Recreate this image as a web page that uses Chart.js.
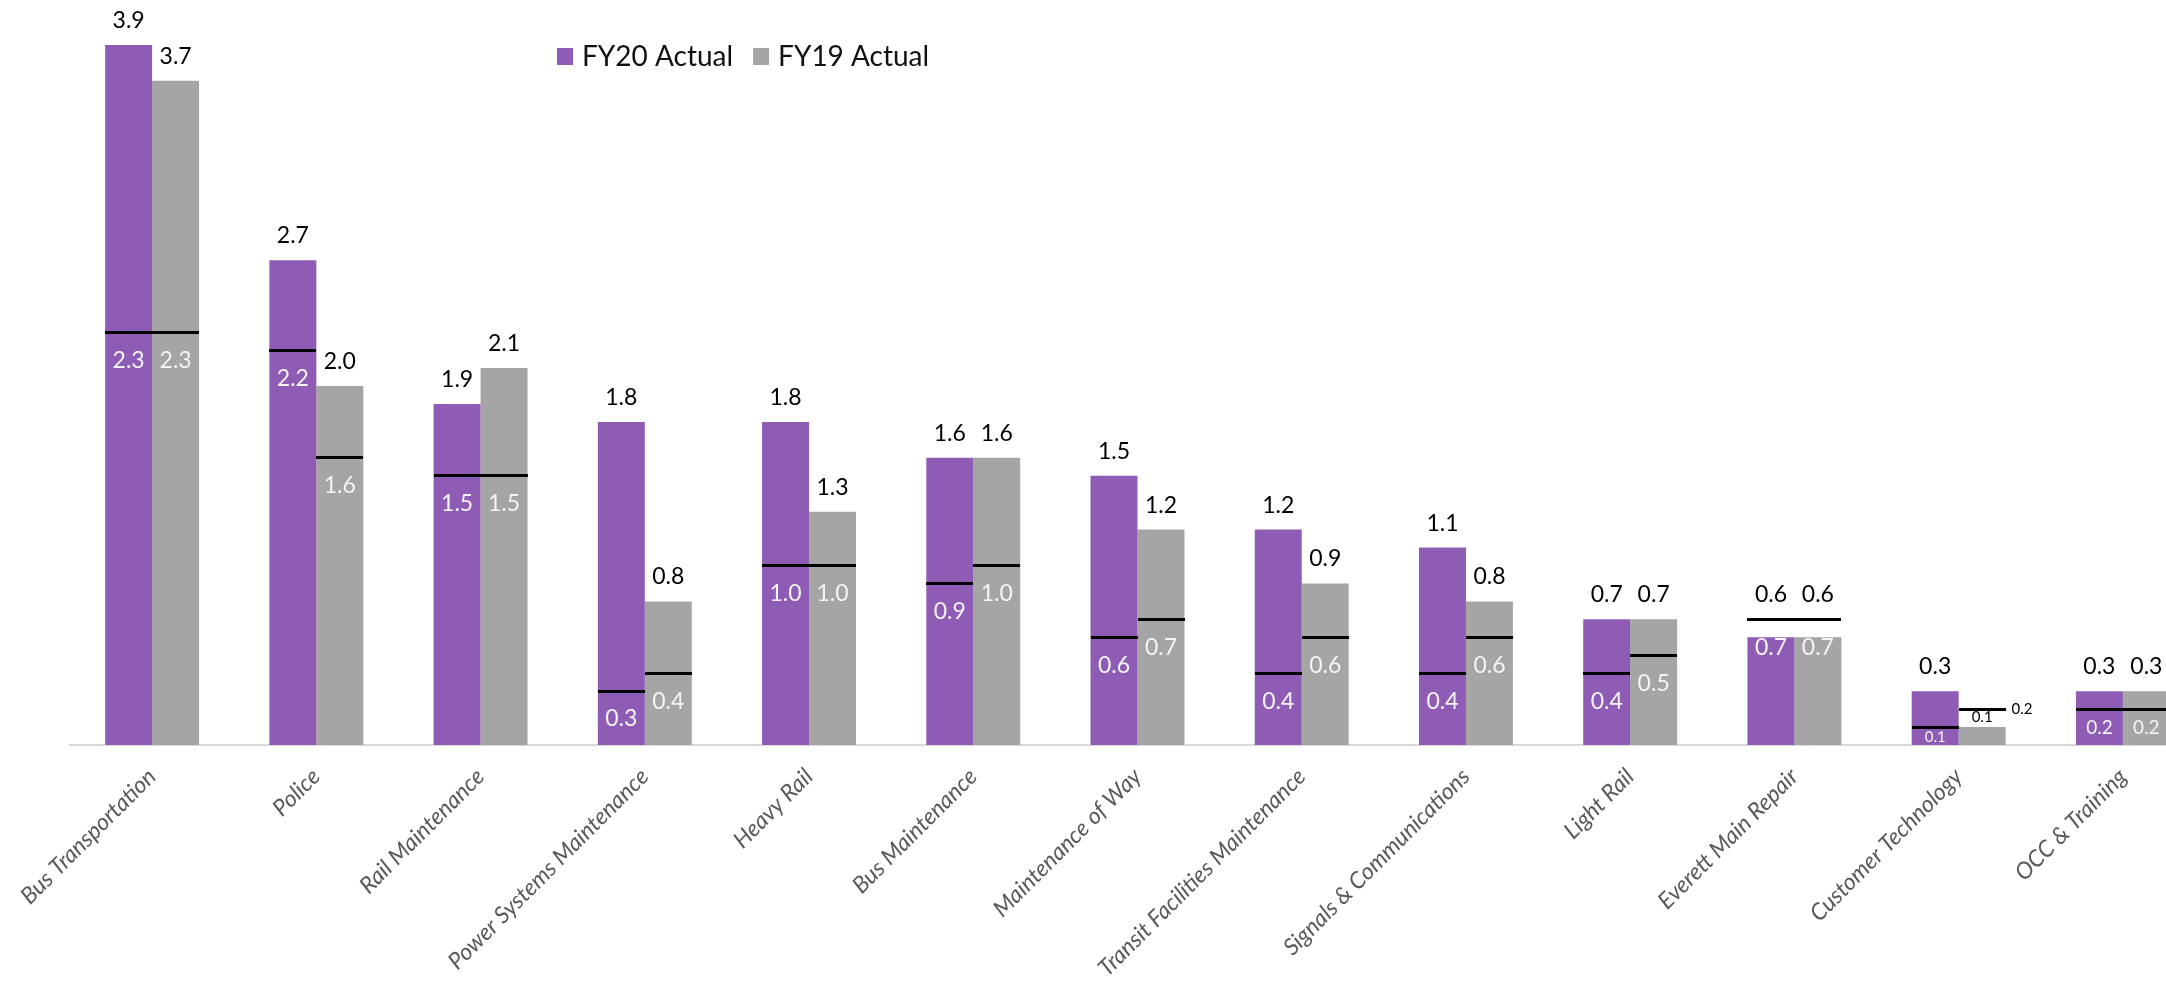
<!DOCTYPE html>
<html>
<head>
<meta charset="utf-8">
<script src="https://cdn.jsdelivr.net/npm/chart.js@4.4.1/dist/chart.umd.min.js"></script>
<style>
  html, body { margin: 0; padding: 0; background: #ffffff; overflow: hidden; }
  #wrap { position: relative; width: 2230px; height: 982px; }
</style>
</head>
<body>
<div id="wrap"><canvas id="chart"></canvas></div>
<script>
// Department values, FY20 vs FY19
const categories = [
  'Bus Transportation', 'Police', 'Rail Maintenance', 'Power Systems Maintenance',
  'Heavy Rail', 'Bus Maintenance', 'Maintenance of Way', 'Transit Facilities Maintenance',
  'Signals & Communications', 'Light Rail', 'Everett Main Repair', 'Customer Technology',
  'OCC & Training'
];
const fy20Actual = [3.9, 2.7, 1.9, 1.8, 1.8, 1.6, 1.5, 1.2, 1.1, 0.7, 0.6, 0.3, 0.3];
const fy19Actual = [3.7, 2.0, 2.1, 0.8, 1.3, 1.6, 1.2, 0.9, 0.8, 0.7, 0.6, 0.1, 0.3];
// Horizontal reference marks drawn across each bar
const fy20Mark = [2.3, 2.2, 1.5, 0.3, 1.0, 0.9, 0.6, 0.4, 0.4, 0.4, 0.7, 0.1, 0.2];
const fy19Mark = [2.3, 1.6, 1.5, 0.4, 1.0, 1.0, 0.7, 0.6, 0.6, 0.5, 0.7, 0.2, 0.2];

const PURPLE = '#8E5CB5';
const GRAY = '#A5A5A5';
const FONT = 'Lato, "Open Sans", sans-serif';

const fmt = v => v.toFixed(1);

// Draws the reference marks and every value label on top of the bars
const markAndLabels = {
  id: 'markAndLabels',
  afterDatasetsDraw(chart) {
    const { ctx, scales: { y } } = chart;
    const base = y.getPixelForValue(0);
    const marks = [fy20Mark, fy19Mark];

    ctx.save();
    // reference marks
    chart.data.datasets.forEach((ds, di) => {
      const meta = chart.getDatasetMeta(di);
      meta.data.forEach((bar, i) => {
        const { x, width } = bar.getProps(['x', 'width'], true);
        const my = y.getPixelForValue(marks[di][i]);
        ctx.fillStyle = '#000000';
        ctx.fillRect(Math.round(x - width / 2), Math.round(my - 1.5), Math.round(width), 3);
      });
    });

    // labels
    chart.data.datasets.forEach((ds, di) => {
      const meta = chart.getDatasetMeta(di);
      meta.data.forEach((bar, i) => {
        const { x, y: top, width } = bar.getProps(['x', 'y', 'width'], true);
        const value = ds.data[i];
        const barH = base - top;
        const small = barH < 25;
        const mv = marks[di][i];
        const my = y.getPixelForValue(mv);

        // value above the bar (or above its mark when the mark sits higher)
        ctx.textAlign = 'center';
        ctx.textBaseline = 'alphabetic';
        ctx.fillStyle = '#000000';
        if (small) {
          ctx.font = '15px ' + FONT;
          ctx.fillText(fmt(value), x, top - 5);
        } else {
          ctx.font = '23px ' + FONT;
          ctx.fillText(fmt(value), x, Math.min(top, my) - 17);
        }

        // value of the reference mark
        const room = base - my;
        if (small) {
          ctx.font = '15px ' + FONT;
          ctx.textAlign = 'left';
          ctx.textBaseline = 'middle';
          ctx.fillStyle = '#000000';
          ctx.fillText(fmt(mv), x + width / 2 + 6, my);
        } else {
          const size = room >= 45 ? 23 : (room >= 30 ? 19 : 15);
          ctx.font = size + 'px ' + FONT;
          ctx.textAlign = 'center';
          ctx.textBaseline = 'middle';
          ctx.fillStyle = '#F4F4F4';
          const cy = Math.min(my + 28, (my + base) / 2 + 1);
          ctx.fillText(fmt(mv), x, cy);
        }
      });
    });
    ctx.restore();
  }
};

// Legend for the two bar series
const seriesLegend = {
  id: 'seriesLegend',
  afterDraw(chart) {
    const { ctx } = chart;
    ctx.save();
    ctx.font = '28px ' + FONT;
    ctx.textAlign = 'left';
    ctx.textBaseline = 'middle';
    let lx = 557;
    const ly = 56;
    chart.data.datasets.forEach(ds => {
      ctx.fillStyle = ds.backgroundColor;
      ctx.fillRect(lx, ly - 8, 16, 17);
      ctx.fillStyle = '#111111';
      ctx.fillText(ds.label, lx + 25, ly + 1);
      lx += 25 + ctx.measureText(ds.label).width + 20;
    });
    ctx.restore();
  }
};

new Chart(document.getElementById('chart'), {
  type: 'bar',
  data: {
    labels: categories,
    datasets: [
      { label: 'FY20 Actual', data: fy20Actual, backgroundColor: PURPLE, borderWidth: 0 },
      { label: 'FY19 Actual', data: fy19Actual, backgroundColor: GRAY, borderWidth: 0 }
    ]
  },
  options: {
    responsive: true,
    maintainAspectRatio: false,
    animation: false,
    events: [],
    layout: { padding: { left: 70, right: 25, top: 27, bottom: 0 } },
    datasets: {
      bar: { barPercentage: 1.0, categoryPercentage: 0.572 }
    },
    plugins: {
      legend: { display: false },
      tooltip: { enabled: false },
      title: { display: false }
    },
    scales: {
      x: {
        grid: { display: false, drawTicks: false },
        border: { display: true, color: '#D9D9D9', width: 2 },
        ticks: {
          autoSkip: false,
          minRotation: 45,
          maxRotation: 45,
          padding: 18,
          color: '#595959',
          font: { family: FONT, style: 'italic', size: 23 }
        },
        afterFit(scale) {
          scale.height = 237;
          scale.paddingLeft = 0;
          scale.paddingRight = 0;
        }
      },
      y: {
        display: false,
        min: 0,
        max: 4
      }
    }
  },
  plugins: [markAndLabels, seriesLegend]
});
</script>
</body>
</html>
